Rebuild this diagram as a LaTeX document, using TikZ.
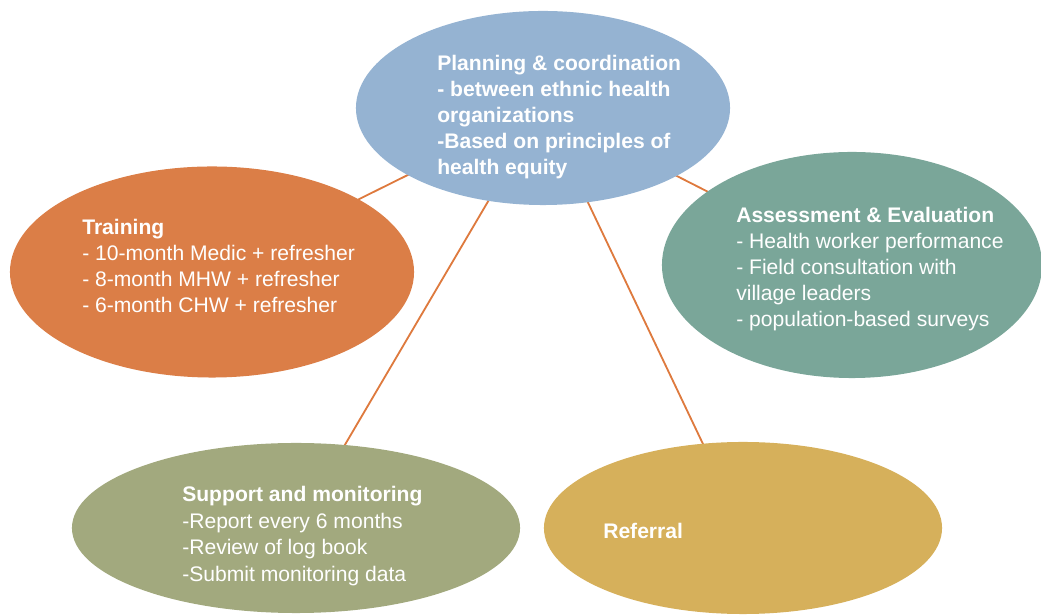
\documentclass[tikz,border=0pt]{standalone}
\usepackage{fontspec}
\setmainfont{Liberation Sans}
\usetikzlibrary{shapes.geometric,backgrounds}
\definecolor{planblue}{RGB}{149,179,210}
\definecolor{trainorange}{RGB}{219,126,71}
\definecolor{assessteal}{RGB}{122,166,153}
\definecolor{supportolive}{RGB}{162,169,126}
\definecolor{referralgold}{RGB}{214,176,91}
\definecolor{spokeorange}{RGB}{222,122,62}
\tikzset{
	bubble/.style={ellipse, draw=none, inner sep=0pt},
	bubbletext/.style={anchor=north west, align=left, text=white, inner sep=0pt,
		font=\fontsize{15}{18.4}\selectfont},
	spoke/.style={draw=spokeorange, line width=1.3pt}
}

\begin{document}
\begin{tikzpicture}[x=0.025cm, y=-0.025cm]
			%%%%% START %%%%%
			\useasboundingbox (0, 0) rectangle (1041, 615);
			
			\node[bubble, fill=planblue, minimum width=9.35cm, minimum height=4.85cm] (plan) at (543, 108) {};
			\node[bubble, fill=trainorange, minimum width=10.1cm, minimum height=5.275cm] (train) at (212, 272) {};
			\node[bubble, fill=assessteal, minimum width=9.5cm, minimum height=5.65cm] (assess) at (852, 265) {};
			\node[bubble, fill=supportolive, minimum width=11.2cm, minimum height=4.25cm] (support) at (296, 528) {};
			\node[bubble, fill=referralgold, minimum width=9.95cm, minimum height=4.3cm] (referral) at (743, 528) {};
			
			\begin{scope}[on background layer]
				\draw[spoke] (plan.center) -- (train.center);
				\draw[spoke] (plan.center) -- (assess.center);
				\draw[spoke] (plan.center) -- (support.center);
				\draw[spoke] (plan.center) -- (referral.center);
			\end{scope}
			
			\node[bubbletext, font=\fontsize{15}{18.4}\selectfont\bfseries] (plantext) at (437, 55)
				{Planning \& coordination\\- between ethnic health\\organizations\\-Based on principles of\\health equity};
			
			\node[bubbletext] (traintext) at (82, 219)
				{\textbf{Training}\\- 10-month Medic + refresher\\- 8-month MHW + refresher\\- 6-month CHW + refresher};
			
			\node[bubbletext] (assesstext) at (736, 207)
				{\textbf{Assessment \& Evaluation}\\- Health worker performance\\- Field consultation with\\village leaders\\- population-based surveys};
			
			\node[bubbletext, font=\fontsize{15}{19}\selectfont] (supporttext) at (182, 486)
				{\textbf{Support and monitoring}\\-Report every 6 months\\-Review of log book\\-Submit monitoring data};
			
			\node[bubbletext, anchor=west, font=\fontsize{15}{18.4}\selectfont\bfseries] (referraltext) at (603, 531) {Referral};
			
			%%%%% END %%%%%
\end{tikzpicture}
\end{document}
